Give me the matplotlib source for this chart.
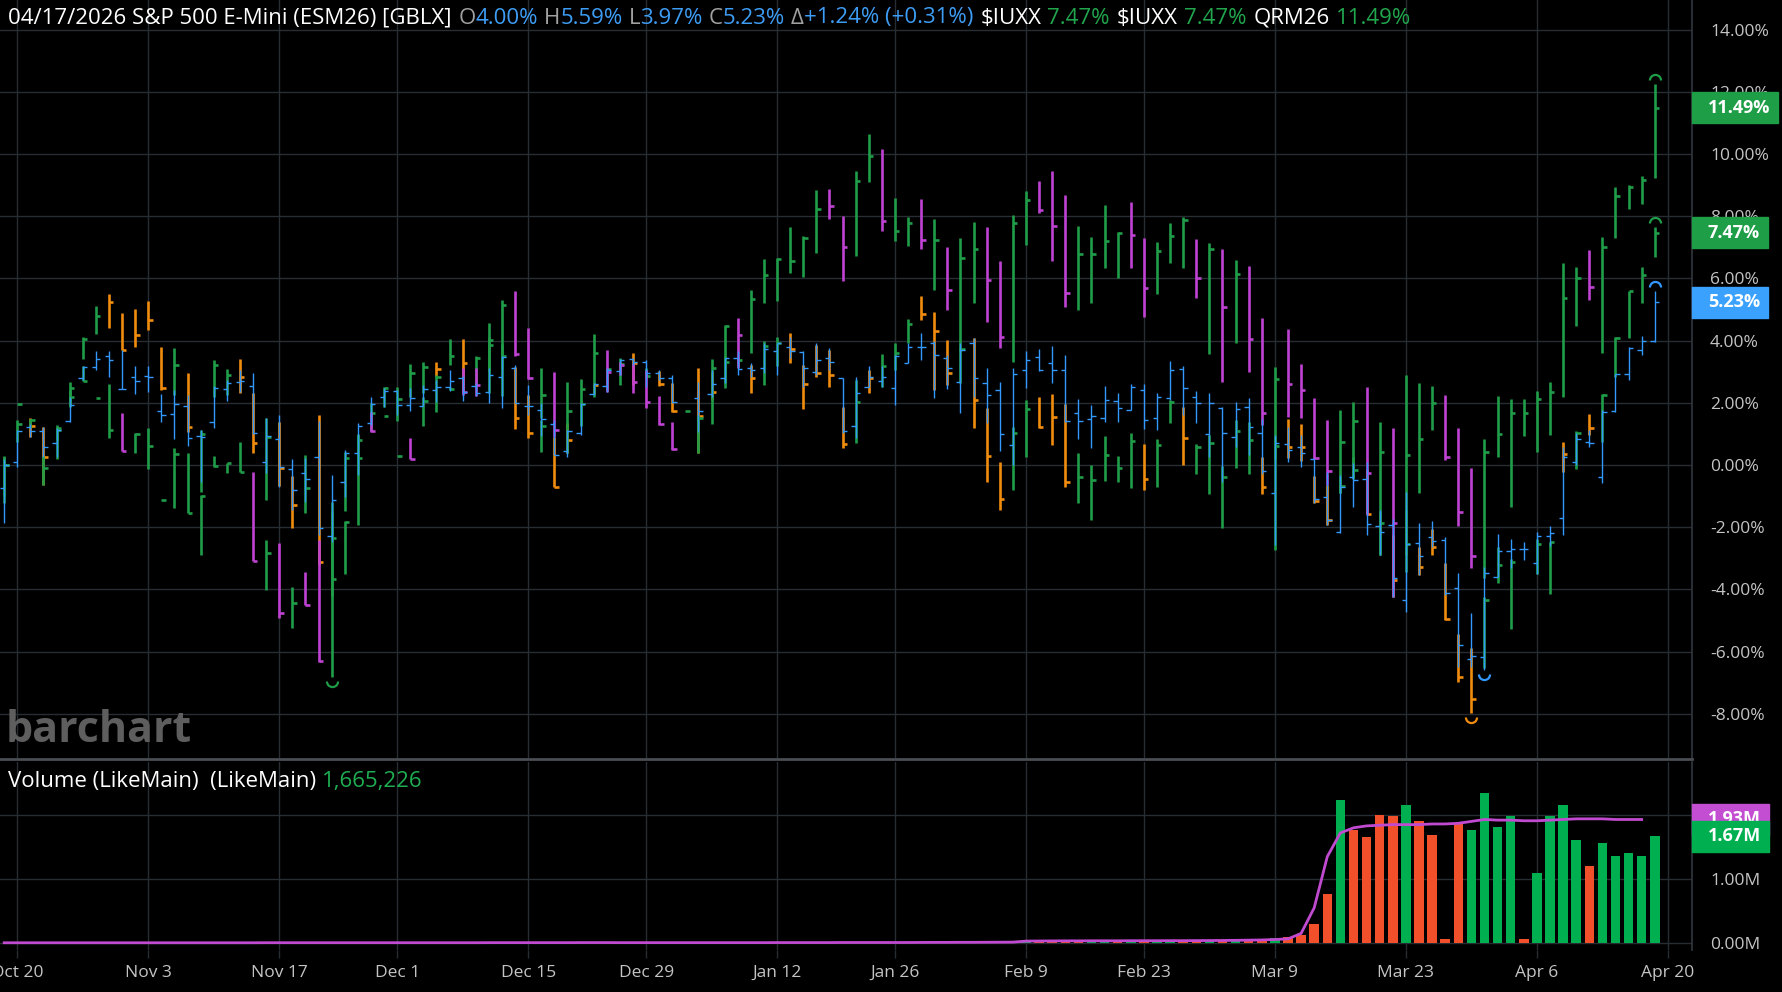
import numpy as np
import matplotlib
matplotlib.use("Agg")
import matplotlib.pyplot as plt
from matplotlib.collections import LineCollection
from matplotlib.patches import Rectangle
from matplotlib.lines import Line2D
from matplotlib.path import Path

nan = np.nan

# trading-day index 0 = Oct 17 2025 ... 126 = Apr 17 2026, values in % vs Oct 17 close
date_idx = [1, 11, 21, 30, 40, 49, 59, 68, 78, 87, 97, 107, 117, 127]
date_labels = ['Oct 20', 'Nov 3', 'Nov 17', 'Dec 1', 'Dec 15', 'Dec 29', 'Jan 12',
               'Jan 26', 'Feb 9', 'Feb 23', 'Mar 9', 'Mar 23', 'Apr 6', 'Apr 20']

# S&P 500 E-Mini (ESM26)
es_o = [-0.75, 0.09, 1.21, 1.10, 0.70, 1.40, 2.81, 3.14, 3.52, 2.45,
        2.84, 2.87, 1.75, 1.63, 1.90, 0.93, 1.39, 2.43, 2.68, 2.55,
        0.11, 0.84, -0.13, -0.27, 0.27, -2.27, -0.54, 0.38, 1.34, 2.18,
        2.39, 1.93, 1.91, 2.41, 2.52, 2.79, 2.54, 2.34, 2.84, 3.13,
        1.91, 1.77, 1.31, 0.46, 1.04, 2.28, 2.55, 3.02, 3.41, 3.32,
        2.97, 2.81, nan, 2.15, 2.27, 2.79, 3.43, 3.11, 3.11, 3.67,
        3.79, 3.62, 3.00, 3.43, 2.79, 1.26, 2.52, 2.71, 2.49, 3.27,
        3.79, 3.92, 3.43, 2.68, 3.92, 2.65, 2.41, 0.64, 3.05, 3.46,
        3.27, 3.05, 1.66, 1.48, 1.52, 2.07, 1.77, 2.41, 1.50, 2.14,
        3.08, 2.20, 1.00, 1.84, 0.89, 1.88, 1.02, -0.91, 0.66, 0.59,
        0.18, -1.04, -2.14, -0.40, -0.46, -1.96, -1.93, -4.34, -2.50, -2.33,
        -2.41, -3.97, -6.25, -6.18, -3.59, -2.77, -2.70, -3.16, -2.28, -1.71,
        0.11, 0.75, -0.37, 1.74, 2.92, 3.70, 4.00]
es_h = [0.20, 1.13, 1.31, 1.23, 1.18, 2.20, 3.18, 3.65, 3.67, 3.70,
        3.18, 3.18, 2.28, 2.41, 2.25, 1.13, 2.55, 2.74, 3.06, 2.97,
        1.50, 1.60, 0.19, 0.21, 1.40, -0.32, 0.48, 1.36, 2.20, 2.47,
        2.41, 2.46, 2.57, 2.74, 3.06, 2.86, 2.63, 3.11, 3.50, 3.22,
        2.57, 1.99, 1.45, 1.13, 1.99, 2.63, 3.11, 3.41, 3.43, 3.38,
        3.06, 2.90, nan, 2.68, 3.06, 3.43, 3.65, 3.27, 3.92, 3.92,
        4.13, 3.65, 3.92, 3.76, 2.79, 2.84, 3.17, 3.17, 3.54, 3.92,
        4.25, 4.00, 3.54, 3.92, 4.08, 3.11, 2.68, 3.11, 3.65, 3.73,
        3.82, 3.54, 2.11, 1.93, 2.55, 2.33, 2.59, 2.59, 2.33, 3.35,
        3.18, 2.39, 2.30, 1.85, 2.04, 2.16, 1.47, 0.96, 1.23, 0.96,
        0.18, -0.21, -0.32, 0.05, 0.11, -1.45, -1.75, -0.86, -1.86, -1.80,
        -2.33, -3.48, -4.77, -3.27, -2.23, -2.39, -2.47, -2.14, -1.96, 0.59,
        1.04, 1.13, 1.77, 2.94, 3.78, 4.15, 5.59]
es_l = [-1.85, -0.05, 0.91, 0.27, 0.27, 1.37, 2.73, 3.06, 2.84, 2.43,
        2.27, 2.36, 1.37, 0.84, 0.62, -0.54, 1.20, 2.06, 2.36, 0.99,
        -0.27, -0.70, -1.45, -1.18, -2.25, -2.47, -1.02, -0.32, 1.30, 1.88,
        1.61, 1.75, 1.91, 2.04, 2.39, 2.06, 2.23, 1.99, 1.82, 2.00,
        1.61, 0.93, 0.32, 0.27, 0.97, 2.25, 2.36, 2.90, 3.20, 2.52,
        2.74, 1.98, nan, 1.07, 2.20, 2.63, 2.90, 2.84, 2.95, 2.88,
        3.43, 2.52, 2.90, 3.06, 1.02, 0.86, 2.52, 2.52, 1.93, 3.27,
        3.38, 2.15, 2.44, 1.67, 2.20, 1.34, 0.46, 0.00, 2.47, 3.01,
        2.65, 1.39, 0.83, 0.54, 1.39, 1.39, 1.77, 1.17, 1.13, 2.09,
        1.61, 1.34, 0.27, -0.54, 0.57, 0.32, -0.30, -2.57, 0.11, -0.05,
        -1.23, -1.93, -2.20, -1.34, -2.25, -2.90, -4.23, -4.72, -3.54, -2.63,
        -4.18, -6.48, -6.50, -6.60, -3.59, -3.30, -3.05, -3.50, -2.60, -2.25,
        0.00, 0.59, -0.59, 1.69, 2.73, 3.54, 3.97]
es_c = [0.00, 1.09, 1.09, 0.57, 1.13, 1.93, 3.15, 3.41, 3.38, 2.43,
        2.71, 2.82, 1.61, 1.96, 0.86, 0.89, 2.47, 2.65, 2.71, 1.02,
        0.93, -0.05, -0.80, -0.46, -2.04, -1.13, 0.40, 1.27, 1.96, 2.39,
        1.93, 2.14, 2.45, 2.52, 2.71, 2.34, 2.30, 2.90, 3.46, 2.00,
        1.91, 1.48, 0.32, 1.09, 1.96, 2.60, 3.06, 3.38, 3.32, 2.95,
        2.81, 2.03, nan, 1.75, 2.60, 3.43, 3.08, 3.06, 3.72, 3.92,
        3.68, 3.13, 3.38, 3.30, 1.10, 2.31, 2.84, 2.84, 3.51, 3.78,
        3.79, 3.54, 3.13, 3.70, 2.79, 2.25, 1.00, 2.93, 3.38, 3.05,
        3.05, 1.43, 1.43, 1.58, 2.09, 1.82, 2.52, 1.45, 2.20, 3.05,
        2.47, 2.00, 1.98, 1.04, 1.80, 1.21, -0.18, 0.70, 0.48, 0.38,
        -1.10, -1.77, -0.72, -0.48, -1.90, -2.14, -3.64, -2.54, -2.93, -2.43,
        -4.13, -5.79, -6.14, -3.46, -2.77, -2.70, -2.70, -2.27, -2.20, 0.27,
        0.84, 0.72, 1.72, 2.93, 3.75, 4.00, 5.23]

# $IUXX (Nasdaq 100)
nq_o = [-0.80, 0.90, 1.45, 1.10, 0.40, 2.00, 3.50, 4.30, 5.40, 4.80,
        4.90, 5.10, 3.70, 2.50, 2.90, 0.20, 2.30, 2.50, 3.20, 2.20,
        -0.50, 1.20, -0.50, -1.20, 1.00, -3.20, -1.20, 0.20, 1.20, 2.00,
        1.70, 2.30, 2.50, 3.25, 3.30, 4.00, 2.80, 3.20, 3.20, 3.10,
        2.20, 0.60, 0.90, 1.30, 1.35, 2.60, 2.50, 2.80, 3.50, 2.80,
        3.00, 2.60, 1.74, 3.00, 2.90, 2.80, 3.20, 3.10, 2.90, 3.40,
        4.10, 3.10, 3.80, 3.50, 1.80, 0.90, 2.90, 2.60, 3.10, 4.00,
        5.30, 4.80, 3.90, 2.70, 4.00, 1.70, 0.00, -0.60, 0.50, 2.10,
        2.20, 1.90, -1.00, -1.50, -0.30, -0.40, -0.50, 0.60, -0.50, 1.40,
        1.80, -0.20, -0.80, -1.80, 0.00, 0.00, 0.20, -2.50, 1.40, 1.20,
        -0.40, -0.70, -0.90, -0.40, -0.20, -2.80, -2.30, -2.80, -2.70, -2.10,
        -3.20, -5.50, -6.00, -6.40, -3.70, -5.00, nan, -3.40, -4.00, 0.70,
        0.00, 1.60, 0.90, 2.90, 4.10, 5.30, 6.80]
nq_h = [0.27, 1.45, 1.50, 1.23, 1.23, 2.66, 4.10, 5.10, 5.49, 4.88,
        5.00, 5.28, 3.79, 3.75, 2.95, 1.13, 3.38, 3.09, 3.41, 2.30,
        1.52, 1.39, -0.35, 0.32, 1.61, -1.20, 0.43, 1.00, 2.00, 2.52,
        2.50, 3.24, 3.30, 3.30, 4.04, 4.05, 3.52, 4.10, 3.90, 3.16,
        2.25, 1.45, 0.91, 1.36, 2.10, 2.65, 3.11, 3.43, 3.61, 3.11,
        3.03, 2.65, 1.74, 3.11, 3.00, 3.49, 3.43, 3.22, 3.99, 4.13,
        4.24, 3.22, 3.86, 3.70, 1.88, 2.74, 3.06, 3.57, 3.92, 4.69,
        5.42, 4.91, 4.02, 3.76, 4.08, 1.82, 0.11, 1.23, 2.09, 2.18,
        2.27, 1.96, 0.40, 0.00, 0.94, 0.29, 1.02, 0.66, 0.83, 2.09,
        1.88, 0.66, 0.96, -0.03, 1.45, 1.39, 0.27, 0.90, 1.47, 1.32,
        -0.35, -0.64, -0.38, 0.25, -0.16, -1.50, -2.25, -1.45, -2.63, -2.07,
        -3.16, -5.43, -5.89, -4.23, -2.63, -3.03, nan, -2.39, -2.47, 0.75,
        1.10, 1.63, 2.28, 4.10, 5.60, 6.36, 7.64]
nq_l = [-1.23, 0.73, 0.90, -0.64, 0.18, 1.88, 3.40, 4.20, 4.42, 3.70,
        3.80, 4.34, 2.41, 2.25, 1.07, -0.86, 2.20, 2.25, 2.30, 0.38,
        -1.13, -0.68, -2.04, -1.55, -3.22, -4.20, -1.47, -0.30, 1.10, 1.86,
        1.43, 2.20, 2.30, 2.82, 3.22, 2.36, 2.57, 3.00, 3.10, 1.16,
        0.88, 0.43, -0.70, 0.38, 1.29, 2.28, 2.41, 2.57, 2.57, 2.79,
        2.55, 1.72, 1.74, 0.38, 2.10, 2.63, 3.17, 2.33, 2.58, 3.17,
        3.29, 1.79, 2.84, 2.52, 0.54, 0.70, 2.33, 2.50, 3.06, 3.92,
        4.67, 2.41, 2.58, 2.63, 1.18, -0.54, -1.45, -0.80, 0.27, 1.18,
        0.64, -0.70, -1.23, -1.77, -0.50, -0.54, -0.75, -0.80, -0.70, 1.34,
        0.00, -0.29, -0.94, -2.04, -0.11, -0.29, -0.94, -2.73, 0.21, 0.14,
        -1.23, -1.93, -0.91, -0.46, -1.59, -2.89, -4.23, -2.90, -3.54, -2.89,
        -4.98, -6.97, -7.98, -6.54, -3.80, -5.28, nan, -3.50, -4.16, -0.21,
        -0.13, 0.96, 0.75, 2.84, 4.07, 5.22, 6.70]
nq_c = [0.00, 1.31, 1.27, 0.25, 1.13, 2.47, 4.04, 4.80, 5.24, 3.70,
        4.18, 4.65, 2.49, 3.22, 1.23, 0.99, 3.22, 2.90, 2.82, 0.70,
        0.91, -0.09, -1.27, -0.73, -3.11, -2.34, 0.21, 0.80, 1.68, 2.49,
        2.11, 2.97, 3.16, 3.08, 3.50, 3.27, 3.43, 3.86, 3.50, 1.52,
        1.02, 1.27, -0.70, 0.80, 1.96, 2.57, 3.09, 3.24, 3.29, 2.86,
        2.60, 1.74, 1.74, 1.58, 2.34, 3.30, 3.38, 2.79, 3.81, 3.92,
        3.72, 2.61, 2.95, 2.88, 0.68, 2.04, 2.81, 3.17, 3.59, 4.53,
        4.86, 4.31, 2.95, 3.72, 2.09, 0.29, -1.09, 1.02, 1.80, 1.23,
        1.53, -0.54, -0.38, -0.48, 0.32, -0.09, 0.78, -0.45, 0.64, 2.04,
        0.86, 0.57, 0.70, -0.40, 1.10, 0.80, -0.72, 0.61, 0.57, 0.59,
        -1.16, -1.77, -0.68, -0.16, -1.59, -1.88, -3.70, -2.54, -3.29, -2.65,
        -4.95, -6.80, -7.52, -4.34, -3.22, -3.13, nan, -2.54, -2.49, 0.34,
        1.04, 1.20, 2.25, 4.08, 5.59, 6.11, 7.47]

# QRM26 (E-mini Russell 2000)
rt_o = [-0.50, 1.95, 1.30, -0.50, 0.90, 2.00, 2.70, 2.17, 0.90, 1.60,
        0.40, 0.00, -1.13, -1.20, -1.55, -2.50, -0.04, -0.20, -0.24, -0.30,
        -3.90, -2.60, -5.00, -3.50, -2.50, -6.50, -3.30, -1.80, 1.60, 1.59,
        0.29, 0.80, 1.30, 1.80, 2.42, 3.00, 3.00, 2.40, 2.50, 5.50,
        4.30, 1.60, 2.90, 0.50, 1.40, 2.30, 3.60, 3.25, 3.20, 3.00,
        2.20, 1.30, nan, 0.50, 1.40, 2.60, 4.60, 3.70, 5.30, 5.40,
        6.30, 6.20, 7.00, 8.80, 7.90, 6.90, 9.20, 10.00, 7.30, 7.10,
        8.40, 5.80, 6.90, 4.00, 5.40, 7.50, 6.40, 3.50, 7.20, 9.00,
        9.30, 8.50, 5.10, 5.40, 6.50, 6.20, 8.30, 7.20, 5.60, 6.60,
        6.40, 7.20, 3.80, 6.80, 4.10, 6.30, 4.60, 0.40, 4.20, 3.10,
        2.00, 1.30, -0.80, -0.30, 2.40, -2.70, 1.10, -3.30, -0.80, 1.20,
        2.20, 1.10, -0.20, -3.50, 0.40, -1.20, 1.00, 0.50, 1.00, 2.30,
        4.60, 6.80, 3.70, 7.40, 8.30, 8.50, 9.30]
rt_h = [0.30, 1.95, 1.48, 0.30, 1.30, 2.40, 3.18, 2.17, 2.60, 1.68,
        1.02, 1.18, -1.13, 0.56, 0.38, -0.97, 0.29, 0.08, 0.73, -0.24,
        -2.41, -2.50, -3.91, -3.43, -2.41, -1.50, -1.80, 0.96, 1.72, 1.59,
        0.29, 0.88, 2.20, 2.90, 2.52, 3.11, 3.11, 4.58, 5.29, 5.58,
        4.42, 3.13, 3.00, 2.68, 2.76, 4.20, 3.70, 3.30, 3.27, 3.06,
        2.23, 1.39, nan, 1.61, 3.40, 4.50, 4.72, 5.63, 6.62, 6.65,
        7.64, 7.37, 8.85, 8.87, 7.99, 9.44, 10.65, 10.17, 8.58, 7.97,
        8.55, 7.91, 7.00, 7.30, 7.80, 7.65, 6.55, 8.04, 8.82, 9.13,
        9.46, 8.67, 7.68, 7.32, 8.36, 7.50, 8.47, 7.29, 7.18, 7.79,
        7.98, 7.27, 7.15, 6.93, 6.59, 6.41, 4.72, 3.14, 4.37, 3.25,
        2.14, 1.45, 1.77, 2.04, 2.52, 1.39, 1.20, 2.89, 2.63, 2.54,
        2.25, 1.20, -0.11, 0.83, 2.22, 2.12, 2.11, 2.38, 2.66, 6.51,
        6.36, 6.91, 7.34, 8.95, 9.00, 9.29, 12.24]
rt_l = [-1.00, 1.95, 1.20, -0.64, 0.80, 1.90, 2.70, 2.17, 0.86, 0.45,
        0.38, -0.14, -1.13, -1.37, -1.55, -2.90, -0.05, -0.25, -0.24, -3.09,
        -4.02, -4.93, -5.25, -4.50, -6.33, -6.80, -3.49, -1.93, 1.05, 1.59,
        0.29, 0.18, 1.27, 1.72, 2.41, 2.25, 2.23, 2.30, 2.23, 3.51,
        2.76, 1.50, 0.91, 0.38, 1.27, 2.20, 2.36, 2.90, 2.30, 1.82,
        1.29, 0.48, nan, 0.38, 1.32, 2.47, 3.11, 3.60, 5.20, 5.28,
        6.17, 6.06, 6.83, 7.90, 5.90, 6.73, 9.09, 7.51, 7.19, 7.03,
        6.94, 5.63, 4.99, 3.65, 5.20, 4.61, 3.76, 3.32, 7.07, 8.09,
        6.56, 5.07, 4.98, 5.20, 6.32, 6.02, 6.32, 4.77, 5.49, 6.51,
        6.32, 5.36, 3.57, 2.68, 3.93, 3.00, 1.29, 0.20, 1.55, 1.50,
        0.18, -0.64, -0.91, -0.43, -1.61, -2.89, -4.23, -3.43, -0.91, 1.13,
        0.16, -1.96, -3.32, -3.64, 0.25, -1.36, 0.94, 0.41, 0.96, 2.20,
        4.47, 5.30, 3.59, 7.29, 8.23, 8.38, 9.22]
rt_c = [0.00, 1.95, 1.45, -0.10, 1.20, 2.18, 2.71, 2.17, 1.13, 0.45,
        1.00, 0.61, -1.13, 0.36, -1.53, -0.99, -0.03, 0.05, -0.24, -3.09,
        -2.84, -4.75, -4.45, -4.50, -6.31, -3.67, -1.82, 0.21, 1.10, 1.59,
        0.29, 0.18, 2.06, 2.82, 2.45, 2.36, 2.57, 4.02, 5.15, 3.57,
        2.79, 2.25, 1.13, 1.75, 2.43, 3.61, 3.00, 3.20, 2.66, 2.04,
        1.31, 0.50, nan, 1.50, 3.11, 4.47, 4.18, 5.34, 6.12, 6.62,
        6.55, 7.30, 8.23, 8.32, 7.00, 9.12, 9.92, 7.86, 7.51, 7.78,
        7.24, 7.24, 5.63, 6.67, 6.94, 5.95, 4.11, 7.79, 8.52, 8.20,
        7.70, 5.52, 6.77, 6.78, 7.20, 7.45, 7.40, 5.70, 6.88, 7.36,
        7.88, 6.02, 6.96, 5.09, 6.13, 4.05, 1.66, 2.75, 2.59, 2.41,
        0.21, -0.19, 0.75, 1.41, -0.25, 0.43, -1.88, 0.32, 0.83, 2.00,
        0.25, -1.52, -2.93, 0.43, 1.00, 1.68, 1.68, 2.12, 2.34, 5.36,
        6.00, 5.71, 7.00, 8.66, 8.95, 9.16, 11.49]

# ES volume (LikeMain), millions, and its average line
vol = [0.003, 0.004, 0.002, 0.005, 0.003, 0.004, 0.006, 0.003, 0.005, 0.004,
       0.003, 0.005, 0.006, 0.004, 0.005, 0.003, 0.004, 0.002, 0.003, 0.006,
       0.007, 0.005, 0.006, 0.004, 0.008, 0.006, 0.005, 0.004, 0.002, 0.001,
       0.005, 0.004, 0.006, 0.005, 0.004, 0.006, 0.005, 0.007, 0.008, 0.009,
       0.007, 0.006, 0.008, 0.006, 0.010, 0.005, 0.004, 0.002, 0.003, 0.004,
       0.004, 0.003, 0.000, 0.005, 0.006, 0.007, 0.006, 0.008, 0.007, 0.006,
       0.007, 0.008, 0.009, 0.006, 0.011, 0.009, 0.008, 0.007, 0.009, 0.008,
       0.010, 0.012, 0.011, 0.013, 0.012, 0.015, 0.016, 0.014, 0.012, 0.013,
       0.014, 0.018, 0.016, 0.015, 0.014, 0.016, 0.015, 0.020, 0.022, 0.024,
       0.026, 0.028, 0.032, 0.045, 0.040, 0.050, 0.065, 0.075, 0.090, 0.130,
       0.300, 0.760, 2.230, 1.770, 1.650, 2.000, 1.980, 2.160, 1.900, 1.680,
       0.070, 1.880, 1.770, 2.350, 1.820, 1.980, 0.070, 1.090, 1.980, 2.160,
       1.610, 1.210, 1.560, 1.360, 1.410, 1.360, 1.665226]
vol_ma = [0.004, 0.004, 0.004, 0.004, 0.004, 0.004, 0.004, 0.004, 0.004, 0.004,
          0.004, 0.004, 0.004, 0.004, 0.004, 0.004, 0.004, 0.004, 0.004, 0.004,
          0.005, 0.005, 0.005, 0.005, 0.005, 0.005, 0.005, 0.005, 0.005, 0.005,
          0.005, 0.005, 0.005, 0.005, 0.005, 0.005, 0.005, 0.006, 0.006, 0.006,
          0.006, 0.006, 0.006, 0.006, 0.007, 0.007, 0.007, 0.006, 0.006, 0.006,
          0.006, 0.006, 0.006, 0.006, 0.006, 0.006, 0.006, 0.006, 0.006, 0.007,
          0.007, 0.007, 0.007, 0.007, 0.008, 0.008, 0.008, 0.008, 0.008, 0.008,
          0.009, 0.010, 0.010, 0.011, 0.011, 0.012, 0.013, 0.014, 0.030, 0.032,
          0.033, 0.034, 0.034, 0.035, 0.035, 0.035, 0.036, 0.036, 0.036, 0.037,
          0.037, 0.038, 0.039, 0.040, 0.042, 0.045, 0.048, 0.055, 0.065, 0.150,
          0.550, 1.350, 1.720, 1.800, 1.830, 1.840, 1.850, 1.850, 1.850, 1.860,
          1.860, 1.870, 1.900, 1.930, 1.920, 1.920, 1.910, 1.910, 1.920, 1.930,
          1.940, 1.940, 1.940, 1.930, 1.930, 1.930, nan]

plt.rcParams['font.family'] = ['Open Sans', 'DejaVu Sans']

W, H = 1783, 992
GRID = '#282c33'
LBL = '#c4c4c4'
GREEN = '#1f9d48'
MAGENTA = '#bf42d2'
ORANGE = '#f08c0e'
BLUE = '#3398ff'
VGREEN = '#00b050'
VRED = '#f24f2b'
TICK = 0.33

fig = plt.figure(figsize=(W / 100, H / 100), dpi=100, facecolor='black')
ax = fig.add_axes([0, 1 - 758 / H, 1692 / W, 758 / H], facecolor='black')
axv = fig.add_axes([0, 1 - 950 / H, 1692 / W, 188 / H], facecolor='black')

x = np.arange(len(es_c))


def bar_lines(o, h, l, c, up, down, open_tick):
    segs, cols = [], []
    for xi, oi, hi, li, ci in zip(x, o, h, l, c):
        if np.isnan(ci):
            continue
        col = up if ci >= oi else down
        segs.append([(xi, li), (xi, hi)])
        segs.append([(xi, ci), (xi + TICK, ci)])
        cols += [col, col]
        if open_tick:
            segs.append([(xi - TICK, oi), (xi, oi)])
            cols.append(col)
    return segs, cols


for (o, h, l, c, up, dn, lw, z, ot) in [
        (nq_o, nq_h, nq_l, nq_c, GREEN, ORANGE, 1.9, 3, False),
        (rt_o, rt_h, rt_l, rt_c, GREEN, MAGENTA, 1.9, 4, False),
        (es_o, es_h, es_l, es_c, BLUE, BLUE, 1.0, 5, True)]:
    segs, cols = bar_lines(o, h, l, c, up, dn, ot)
    ax.add_collection(LineCollection(segs, colors=cols, linewidths=lw,
                                     capstyle='butt', zorder=z))
    # high / low markers
    ha, la = np.array(h, float), np.array(l, float)
    ih, il = np.nanargmax(ha), np.nanargmin(la)
    ch = up if c[ih] >= o[ih] else dn
    cl = up if c[il] >= o[il] else dn
    ax.plot(ih, ha[ih] + 0.13, marker=Path.arc(0, 180), ms=8, mfc='none',
            mec=ch, mew=1.6, ls='none', zorder=z)
    ax.plot(il, la[il] - 0.13, marker=Path.arc(180, 360), ms=8, mfc='none',
            mec=cl, mew=1.6, ls='none', zorder=z)

xlim = (-0.32, 128.84)
ax.set_xlim(*xlim)
ax.set_ylim(-9.42, 14.95)
ax.set_xticks(date_idx)
ax.tick_params(axis='x', length=0, labelbottom=False)
ax.yaxis.tick_right()
yt = np.arange(-8, 15, 2)
ax.set_yticks(yt)
ax.set_yticklabels([f'{v:.2f}%' for v in yt])
ax.tick_params(axis='y', length=0, pad=13, labelsize=12.5, labelcolor=LBL)
ax.grid(True, color=GRID, lw=1.0, zorder=0)
ax.set_axisbelow(True)

# volume panel
vcols = [VGREEN if c > o else VRED for o, c in zip(es_o, es_c)]
axv.bar(x, vol, width=0.72, color=vcols, zorder=2)
axv.plot(x, vol_ma, color='#c04ad0', lw=2.0, zorder=3)
axv.set_xlim(*xlim)
axv.set_ylim(-0.109, 2.828)
axv.yaxis.tick_right()
axv.set_yticks([0, 1, 2])
axv.set_yticklabels(['0.00M', '1.00M', '2.00M'])
axv.tick_params(axis='y', length=0, pad=13, labelsize=12.5, labelcolor=LBL)
axv.set_xticks(date_idx)
axv.set_xticklabels(date_labels)
axv.tick_params(axis='x', length=6, width=1, color=GRID, pad=5,
                labelsize=12.5, labelcolor=LBL)
axv.grid(True, color=GRID, lw=1.0, zorder=0)
axv.set_axisbelow(True)

for a in (ax, axv):
    for s in a.spines.values():
        s.set_visible(False)
    a.spines['right'].set_visible(True)
    a.spines['right'].set_color('#33373e')
    a.spines['right'].set_linewidth(1.2)

fig.add_artist(Line2D([0, 1692 / W], [1 - 759 / H] * 2, transform=fig.transFigure,
                      color='#4a4d53', lw=2.0))


# a line of text built piece by piece so each part keeps its own colour
def chain(host, parts, x0, y0, size):
    t = fig.text(x0, y0, parts[0][0], color=parts[0][1], fontsize=size,
                 va='center', ha='left')
    for txt, col, gap in parts[1:]:
        t = host.annotate(txt, xy=(1, 0), xycoords=t, xytext=(gap, 0),
                          textcoords='offset pixels', va='bottom', ha='left',
                          color=col, fontsize=size, annotation_clip=False,
                          clip_on=False)
    return t


WH, GR, HB, HG = 'white', '#a0a0a0', '#3d9df5', '#21a64d'
chain(ax, [('04/17/2026 S&P 500 E-Mini (ESM26) [GBLX]', WH),
           ('O', GR, 7), ('4.00%', HB, 0), ('H', GR, 6), ('5.59%', HB, 0),
           ('L', GR, 6), ('3.97%', HB, 0), ('C', GR, 6), ('5.23%', HB, 0),
           ('Δ', GR, 6), ('+1.24% (+0.31%)', HB, 0),
           (r'\$IUXX', WH, 7), ('7.47%', HG, 6), (r'\$IUXX', WH, 7), ('7.47%', HG, 6),
           ('QRM26', WH, 7), ('11.49%', HG, 6)], 8 / W, 1 - 18 / H, 16)

chain(axv, [('Volume (LikeMain)  (LikeMain)', WH), ('1,665,226', '#1fae52', 6)],
      8 / W, 1 - 781 / H, 16)

fig.text(6 / W, 1 - 731 / H, 'barchart', color='#5e5e5e', fontsize=31,
         fontweight='bold', va='center', ha='left')

# price tags on the right axis
renderer = fig.canvas.get_renderer()


def tag(a, val, text, color, z):
    y = a.transData.transform((0, val))[1]
    t = fig.text(1708 / W, y / H, text, color='white', fontsize=13,
                 fontweight='bold', va='center', ha='left', zorder=z + 0.5)
    tw = t.get_window_extent(renderer).width
    fig.add_artist(Rectangle((1692 / W, (y - 15.5) / H), (24 + tw) / W, 31 / H,
                             transform=fig.transFigure, color=color, zorder=z))


tag(ax, rt_c[-1], f'{rt_c[-1]:.2f}%', '#1e9e47', 2)
tag(ax, nq_c[-1], f'{nq_c[-1]:.2f}%', '#1e9e47', 2)
tag(ax, es_c[-1], f'{es_c[-1]:.2f}%', '#3ba1ff', 2)
ma_last = [v for v in vol_ma if not np.isnan(v)][-1]
tag(axv, ma_last, f'{ma_last:.2f}M', '#c44ed2', 2)
tag(axv, vol[-1], f'{vol[-1]:.2f}M', VGREEN, 3)

fig.savefig('out.png', dpi=100, facecolor='black')
